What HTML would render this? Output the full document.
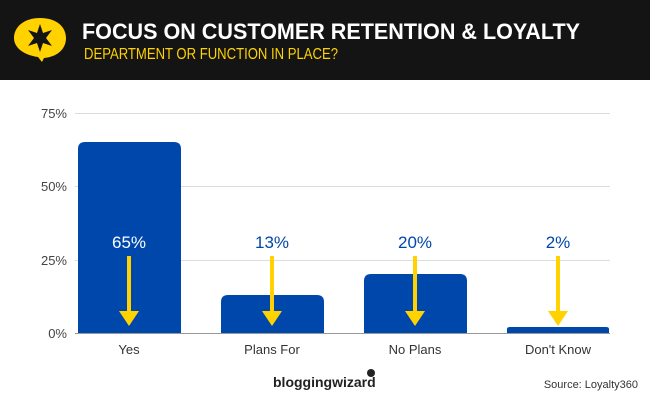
<!DOCTYPE html>
<html><head><meta charset="utf-8"><style>
body{margin:0;width:650px;height:400px;overflow:hidden;background:#fff;font-family:"Liberation Sans",sans-serif}
</style></head><body>
<svg width="650" height="400" xmlns="http://www.w3.org/2000/svg" font-family="Liberation Sans, sans-serif">
<rect x="0" y="0" width="650" height="80" fill="#141414"/>
<path d="M40 18 C58 18 66 28 66 38 C66 50 56 57 44 58 L42 62 L38 57 C24 55 14 48 14 38 C14 27 24 18 40 18Z" fill="#FFD200"/>
<polygon points="40,24 43,33 52,30 46,38 52,46 43,43 40,52 37,43 28,46 34,38 28,30 37,33" fill="#141414"/>
<text x="82" y="39" fill="#fff" font-size="22" font-weight="bold" textLength="498" lengthAdjust="spacingAndGlyphs">FOCUS ON CUSTOMER RETENTION &amp; LOYALTY</text>
<text x="84" y="59" fill="#FFD200" font-size="16" textLength="254" lengthAdjust="spacingAndGlyphs">DEPARTMENT OR FUNCTION IN PLACE?</text>
<g stroke="#ddd" stroke-width="1">
<line x1="75" y1="113.5" x2="610" y2="113.5"/>
<line x1="75" y1="186.5" x2="610" y2="186.5"/>
<line x1="75" y1="260.5" x2="610" y2="260.5"/>
</g>
<g font-size="13" fill="#444" text-anchor="end">
<text x="67" y="118">75%</text><text x="67" y="191">50%</text><text x="67" y="265">25%</text><text x="67" y="338">0%</text>
</g>
<g fill="#0047AB">
<path d="M78 333 V149 Q78 142 85 142 H174 Q181 142 181 149 V333Z"/>
<path d="M221 333 V302 Q221 295 228 295 H317 Q324 295 324 302 V333Z"/>
<path d="M364 333 V281 Q364 274 371 274 H460 Q467 274 467 281 V333Z"/>
<path d="M507 333 V329 Q507 327 510 327 H606 Q609 327 609 329 V333Z"/>
</g>
<line x1="75" y1="333.5" x2="610" y2="333.5" stroke="#999"/>
<g font-size="17" text-anchor="middle">
<text x="129" y="248" fill="#fff">65%</text>
<text x="272" y="248" fill="#0047AB">13%</text>
<text x="415" y="248" fill="#0047AB">20%</text>
<text x="558" y="248" fill="#0047AB">2%</text>
</g>
<g fill="#FFD200">
<rect x="127" y="256" width="4" height="57"/><polygon points="119,311 139,311 129,326"/>
<rect x="270" y="256" width="4" height="57"/><polygon points="262,311 282,311 272,326"/>
<rect x="413" y="256" width="4" height="57"/><polygon points="405,311 425,311 415,326"/>
<rect x="556" y="256" width="4" height="57"/><polygon points="548,311 568,311 558,326"/>
</g>
<g font-size="13" fill="#333" text-anchor="middle">
<text x="129" y="354">Yes</text><text x="272" y="354">Plans For</text><text x="415" y="354">No Plans</text><text x="558" y="354">Don't Know</text>
</g>
<text x="273" y="387" font-size="14" font-weight="bold" fill="#222">bloggingwizard</text>
<circle cx="371" cy="373" r="4" fill="#222"/>
<text x="638" y="388" font-size="11" fill="#333" text-anchor="end">Source: Loyalty360</text>
</svg>
</body></html>
